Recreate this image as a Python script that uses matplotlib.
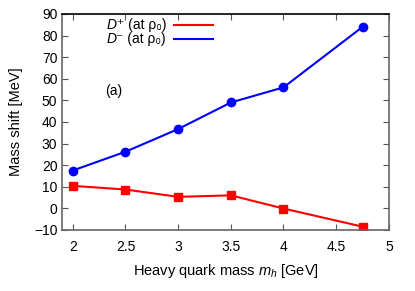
import matplotlib
matplotlib.use("Agg")
import matplotlib.pyplot as plt
from matplotlib.lines import Line2D

plt.rcParams['font.family'] = ['Liberation Sans', 'DejaVu Sans']
plt.rcParams['mathtext.fontset'] = 'custom'
plt.rcParams['mathtext.rm'] = 'Liberation Sans'
plt.rcParams['mathtext.it'] = 'Liberation Sans:italic'

# heavy quark mass [GeV]
mass = [2.0, 2.5, 3.0, 3.5, 4.0, 4.75]
# mass shifts [MeV]
shift_dplus = [10.4, 8.7, 5.3, 6.0, -0.1, -8.5]
shift_dminus = [17.5, 26.2, 36.7, 49.0, 56.0, 84.0]
key_sign = ['\u207a', '\u207b']
key_rest = ' (at \u03c1\u2080)'
colors = ['#ff0000', '#0000ff']

fig, ax = plt.subplots(figsize=(4.15, 2.91), dpi=100)
fig.subplots_adjust(left=0.15, right=0.937, top=0.952, bottom=0.21)

ax.plot(mass, shift_dplus, color=colors[0], lw=1.5, marker='s', ms=6)
ax.plot(mass, shift_dminus, color=colors[1], lw=1.5, marker='o', ms=6)

ax.set_xlim(1.9, 5.0)
ax.set_ylim(-10, 90)
ax.set_xticks([2, 2.5, 3, 3.5, 4, 4.5, 5])
ax.set_xticklabels(['2', '2.5', '3', '3.5', '4', '4.5', '5'])
ax.set_yticks(range(-10, 91, 10))
ax.tick_params(direction='in', top=True, right=True, labelsize=10, length=4,
               color='#555555')
ax.tick_params(axis='x', pad=7)
for s in ax.spines.values():
    s.set_color('#666666')
    s.set_linewidth(1.2)
ax.spines['top'].set_color('black')

ax.set_xlabel(r'Heavy quark mass $m_h$ [GeV]', fontsize=10.5, labelpad=6)
ax.set_ylabel('Mass shift [MeV]', fontsize=10.5, labelpad=8)

# gnuplot-style key: right-aligned text followed by line sample
fig.canvas.draw()
renderer = fig.canvas.get_renderer()
for i, (sign, c) in enumerate(zip(key_sign, colors)):
    y = 0.949 - i * 0.064
    t = ax.text(0.318, y, sign + key_rest, transform=ax.transAxes,
                ha='right', va='center', fontsize=10)
    bb = t.get_window_extent(renderer).transformed(ax.transAxes.inverted())
    ax.text(bb.x0, y, 'D', transform=ax.transAxes, ha='right', va='center',
            fontsize=10, style='italic')
    ax.add_line(Line2D([0.342, 0.462], [y, y], transform=ax.transAxes,
                       color=c, lw=1.5))

ax.text(0.132, 0.645, '(a)', transform=ax.transAxes, fontsize=10,
        va='center')

fig.savefig('out.png', dpi=100)
